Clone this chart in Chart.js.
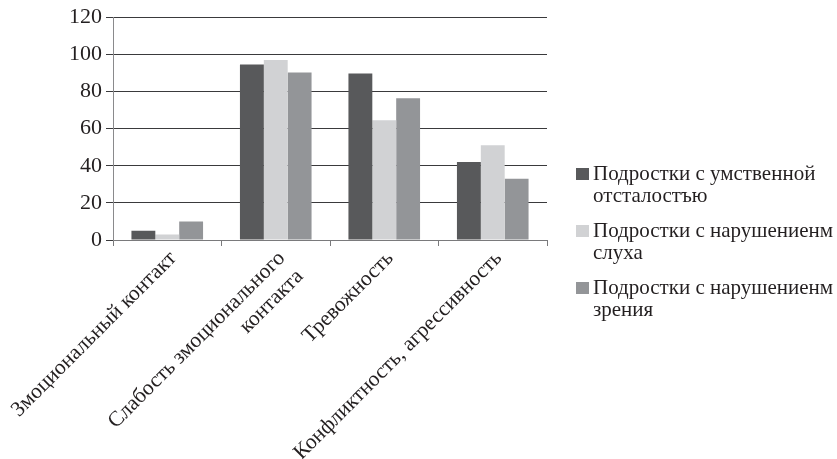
<!DOCTYPE html>
<html>
<head>
<meta charset="utf-8">
<script src="https://cdn.jsdelivr.net/npm/chart.js@4/dist/chart.umd.min.js"></script>
<style>
  html, body { margin: 0; padding: 0; background: #fff; }
  #wrap { width: 837px; height: 459px; }
</style>
</head>
<body>
<div id="wrap"><canvas id="chart" width="837" height="459"></canvas></div>
<script>
// Данные
const categories = [
  'Змоциональный контакт',
  ['Слабость змоционального', 'контакта'],
  'Тревожность',
  'Конфликтность, агрессивность'
];
const seriesNames = [
  ['Подростки с умственной', 'отсталостъю'],
  ['Подростки с нарушениенм', 'слуха'],
  ['Подростки с нарушениенм', 'зрения']
];
const mentalValues = [5, 94.5, 89.7, 42];
const hearingValues = [3, 97, 64.5, 51];
const visionValues = [10, 90.2, 76.3, 33];
const yTicks = [0, 20, 40, 60, 80, 100, 120];

const colors = ['#58595b', '#d1d2d4', '#939598'];
const FONT = "'Liberation Serif', 'Times New Roman', serif";
const ink = '#231f20';

// Легенда справа, рисуем сами (две строки на элемент)
const sideLegend = {
  id: 'sideLegend',
  afterDraw(chart) {
    const ctx = chart.ctx;
    ctx.save();
    ctx.font = '21px ' + FONT;
    ctx.textBaseline = 'alphabetic';
    ctx.textAlign = 'left';
    const startY = 180, itemGap = 57, lineGap = 21.5;
    chart.data.datasets.forEach((ds, i) => {
      const y = startY + i * itemGap;
      ctx.fillStyle = ds.backgroundColor;
      ctx.fillRect(576, y - 12, 13, 12);
      ctx.fillStyle = ink;
      ds.legendText.forEach((line, j) => {
        ctx.fillText(line, 593, y + j * lineGap);
      });
    });
    ctx.restore();
  }
};

new Chart(document.getElementById('chart'), {
  type: 'bar',
  data: {
    labels: categories,
    datasets: [
      { label: seriesNames[0].join(' '), legendText: seriesNames[0], data: mentalValues, backgroundColor: colors[0] },
      { label: seriesNames[1].join(' '), legendText: seriesNames[1], data: hearingValues, backgroundColor: colors[1] },
      { label: seriesNames[2].join(' '), legendText: seriesNames[2], data: visionValues, backgroundColor: colors[2] }
    ]
  },
  options: {
    responsive: false,
    animation: false,
    layout: { padding: { top: 8, right: 290, left: 0, bottom: 0 } },
    datasets: { bar: { barPercentage: 1.0, categoryPercentage: 0.66 } },
    plugins: {
      legend: { display: false },
      tooltip: { enabled: false }
    },
    scales: {
      x: {
        grid: { display: true, drawOnChartArea: false, color: '#7a7a7c', tickLength: 6, offset: true },
        border: { display: true, color: '#7a7a7c', width: 1 },
        ticks: {
          color: ink,
          font: { family: FONT, size: 21.5 },
          minRotation: 45, maxRotation: 45,
          autoSkip: false, padding: 0, labelOffset: 6
        },
        afterFit(scale) {
          scale.height = 219;
          scale.paddingLeft = 0;
        }
      },
      y: {
        min: 0, max: 120,
        grid: { color: '#3a3a3c', tickLength: 7, lineWidth: 1 },
        border: { display: true, color: '#8a8a8c' },
        afterBuildTicks(scale) { scale.ticks = yTicks.map(v => ({ value: v })); },
        ticks: {
          color: ink,
          font: { family: FONT, size: 22 },
          padding: 4
        },
        afterFit(scale) { scale.width = 113; }
      }
    }
  },
  plugins: [sideLegend]
});
</script>
</body>
</html>
